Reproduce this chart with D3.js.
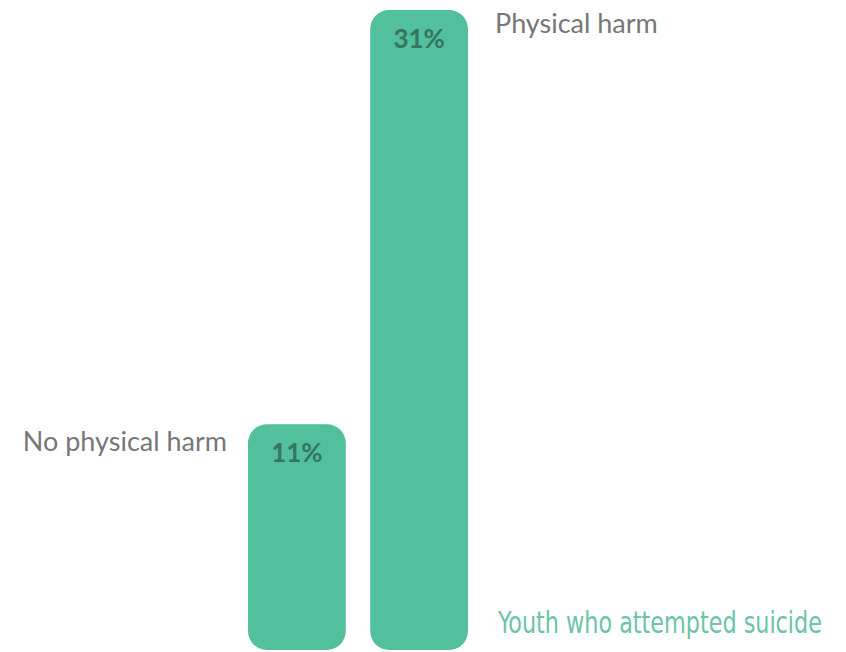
<!DOCTYPE html>
<html>
<head>
<meta charset="utf-8">
<script src="https://cdn.jsdelivr.net/npm/d3@7"></script>
<style>
  body { margin: 0; background: #fff; }
</style>
</head>
<body>
<script>
// data
const categories = ["No physical harm", "Physical harm"];
const values = [11, 31];
const title = "Youth who attempted suicide";

const w = 846, h = 652;

const svg = d3.select("body").append("svg")
  .attr("width", w)
  .attr("height", h);

// scales
const x = d3.scaleBand()
  .domain(categories)
  .range([248, 468])
  .paddingInner(0.2);

const y = d3.scaleLinear()
  .domain([0, 31])
  .range([652, 10]);

// bars
svg.selectAll("rect.bar")
  .data(values)
  .enter().append("rect")
  .attr("class", "bar")
  .attr("x", (d, i) => x(categories[i]))
  .attr("y", d => y(d))
  .attr("width", x.bandwidth())
  .attr("height", d => y(0) - y(d) - 2)
  .attr("rx", 19)
  .attr("ry", 19)
  .style("fill", "#52bf9d");

// value labels inside bars
svg.selectAll("text.val")
  .data(values)
  .enter().append("text")
  .attr("class", "val")
  .attr("x", (d, i) => x(categories[i]) + x.bandwidth() / 2)
  .attr("y", d => y(d) + 38)
  .attr("text-anchor", "middle")
  .style("font-family", "Lato, 'Open Sans', sans-serif")
  .style("font-weight", "bold")
  .style("font-size", "26px")
  .style("fill", "#367563")
  .text(d => d + "%");

// category labels
svg.append("text")
  .attr("x", x(categories[0]) - 21)
  .attr("y", y(values[0]) + 27)
  .attr("text-anchor", "end")
  .style("font-family", "Lato, 'Open Sans', sans-serif")
  .style("font-size", "27px")
  .style("fill", "#777")
  .text(categories[0]);

svg.append("text")
  .attr("x", x(categories[1]) + x.bandwidth() + 27)
  .attr("y", y(values[1]) + 23)
  .style("font-family", "Lato, 'Open Sans', sans-serif")
  .style("font-size", "27px")
  .style("fill", "#777")
  .text(categories[1]);

// series caption, squeezed horizontally to look condensed
const cap = svg.append("text")
  .attr("x", 0)
  .attr("y", 0)
  .style("font-family", "'Liberation Sans Narrow', 'DejaVu Sans Condensed', sans-serif")
  .style("font-size", "30px")
  .style("fill", "#6cc4a8")
  .text(title);
const capW = cap.node().getComputedTextLength();
cap.attr("transform", "translate(498,633) scale(" + (324 / capW) + ",1)");
</script>
</body>
</html>
